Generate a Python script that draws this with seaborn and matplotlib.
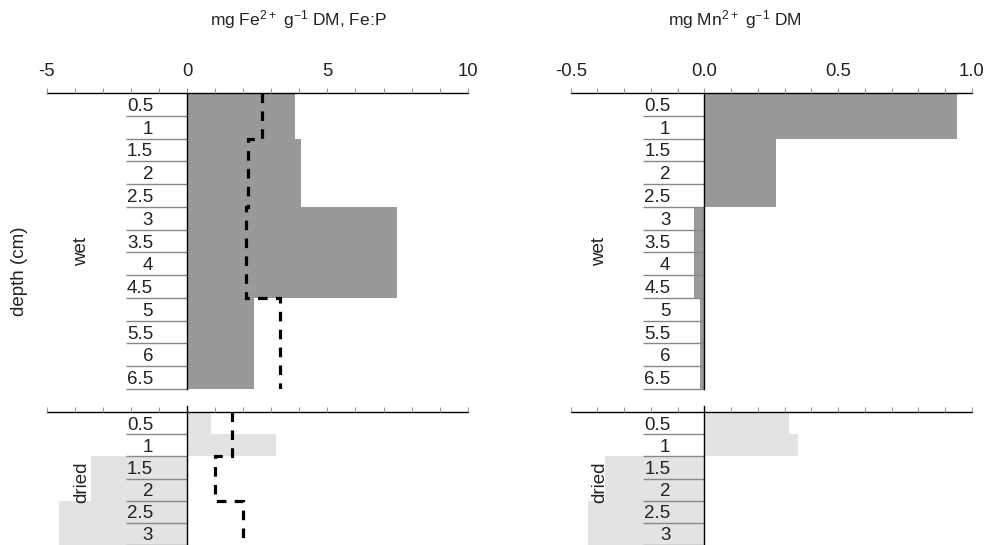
import numpy as np
import pandas as pd
import matplotlib
matplotlib.use("Agg")
import matplotlib.pyplot as plt
from matplotlib.ticker import MultipleLocator, FixedLocator, NullFormatter, FormatStrFormatter
import seaborn as sns

sns.set_style("white")
plt.rcParams["font.family"] = ["Liberation Sans", "DejaVu Sans"]
plt.rcParams["mathtext.default"] = "regular"
plt.rcParams["axes.unicode_minus"] = False

# ---- data ----
wet_depths = ["0.5", "1", "1.5", "2", "2.5", "3", "3.5", "4", "4.5", "5", "5.5", "6", "6.5"]
dried_depths = ["0.5", "1", "1.5", "2", "2.5", "3"]

fe_wet = [3.84, 3.84, 4.07, 4.07, 4.07, 7.49, 7.49, 7.49, 7.49, 2.38, 2.38, 2.38, 2.38]
fep_wet = [2.68, 2.68, 2.16, 2.16, 2.16, 2.10, 2.10, 2.10, 2.10, 3.33, 3.33, 3.33, 3.33]
fe_dried = [0.84, 3.18, -3.43, -3.43, -4.56, -4.56]
fep_dried = [1.61, 1.61, 0.98, 0.98, 1.99, 1.99]

mn_wet = [0.946, 0.946, 0.267, 0.267, 0.267, -0.037, -0.037, -0.037, -0.037,
          -0.015, -0.015, -0.015, -0.015]
mn_dried = [0.315, 0.35, -0.37, -0.37, -0.435, -0.435]

fe_title = r"mg Fe$^{2+}$ g$^{-1}$ DM, Fe:P"
mn_title = r"mg Mn$^{2+}$ g$^{-1}$ DM"

W, H = 985, 545
fig = plt.figure(figsize=(W / 100, H / 100), dpi=100)


def px_axes(x0, x1, ytop, ybot):
    return fig.add_axes([x0 / W, 1 - ybot / H, (x1 - x0) / W, (ybot - ytop) / H])


WET_COLOR = "#999999"
DRY_COLOR = "#e3e3e3"


def panel(ax, depths, vals, color, xlim, major, minor, show_xlabels, line=None,
          spine_ext=0.0):
    n = len(depths)
    df = pd.DataFrame({"depth": depths, "value": vals})
    sns.barplot(data=df, x="value", y="depth", order=depths, orient="h",
                width=1.0, color=color, saturation=1, linewidth=0, ax=ax)
    if line is not None:
        ax.stairs(line, edges=np.arange(n + 1) - 0.5, orientation="horizontal",
                  baseline=None, color="black", linewidth=2.3,
                  linestyle=(0, (3, 2.6)), zorder=3)
    ax.set_axisbelow(False)
    ax.set_xlim(*xlim)
    ax.set_ylim(n - 0.5, -0.5)
    ax.set_xlabel("")
    ax.set_ylabel("")
    ax.set_facecolor("none")
    for s in ["right", "bottom"]:
        ax.spines[s].set_visible(False)
    ax.spines["top"].set_color("black")
    ax.spines["top"].set_linewidth(1.0)
    ax.spines["left"].set_position(("data", 0))
    ax.spines["left"].set_color("black")
    ax.spines["left"].set_linewidth(1.0)
    ax.spines["left"].set_zorder(4)
    if spine_ext:
        ax.spines["left"].set_bounds(n - 0.5, -0.5 - spine_ext)
    ax.xaxis.tick_top()
    ax.xaxis.set_major_locator(MultipleLocator(major))
    ax.xaxis.set_minor_locator(MultipleLocator(minor))
    ax.tick_params(axis="x", which="both", direction="out", length=3.5,
                   color="#999999", width=0.8, pad=5.5, labelsize=13.3,
                   top=True, bottom=False, labelcolor="#222222")
    if not show_xlabels:
        ax.xaxis.set_major_formatter(NullFormatter())
    # y: labels at row centres, separator lines at row boundaries
    ax.yaxis.set_major_locator(FixedLocator(np.arange(n)))
    ax.set_yticklabels(depths)
    ax.yaxis.set_minor_locator(FixedLocator(np.arange(n) + 0.5))
    ax.tick_params(axis="y", which="both", left=True, right=False)
    ax.tick_params(axis="y", which="major", length=0, pad=24.5, labelsize=13.5,
                   labelcolor="#222222")
    ax.tick_params(axis="y", which="minor", length=44, width=1.0, color="#888888",
                   direction="out")
    ax.grid(False)


# Fe panels
ax_fe_w = px_axes(46.7, 467.7, 93, 389)
panel(ax_fe_w, wet_depths, fe_wet, WET_COLOR, (-5, 10), 5, 1, True, fep_wet)
ax_fe_d = px_axes(46.7, 467.7, 412, 545)
panel(ax_fe_d, dried_depths, fe_dried, DRY_COLOR, (-5, 10), 5, 1, False, fep_dried,
      spine_ext=0.27)

# Mn panels
ax_mn_w = px_axes(570.7, 971.7, 93, 389)
panel(ax_mn_w, wet_depths, mn_wet, WET_COLOR, (-0.5, 1.0), 0.5, 0.1, True)
ax_mn_w.xaxis.set_major_formatter(FormatStrFormatter("%.1f"))
ax_mn_d = px_axes(570.7, 971.7, 412, 545)
panel(ax_mn_d, dried_depths, mn_dried, DRY_COLOR, (-0.5, 1.0), 0.5, 0.1, False,
      spine_ext=0.27)

# texts
fig.text(298 / W, 1 - 20 / H, fe_title, ha="center", va="center", fontsize=12.5,
         color="#222222")
fig.text(735 / W, 1 - 20 / H, mn_title, ha="center", va="center", fontsize=12.5,
         color="#222222")
fig.text(20 / W, 1 - 271 / H, "depth (cm)", rotation=90, ha="center", va="center",
         fontsize=13.5, color="#222222")
for xpx in (82, 600):
    fig.text(xpx / W, 1 - 252 / H, "wet", rotation=90, ha="center", va="center",
             fontsize=13.5, color="#222222")
    fig.text(xpx / W, 1 - 482 / H, "dried", rotation=90, ha="center", va="center",
             fontsize=13.5, color="#222222")

fig.savefig("out.png", dpi=100)
